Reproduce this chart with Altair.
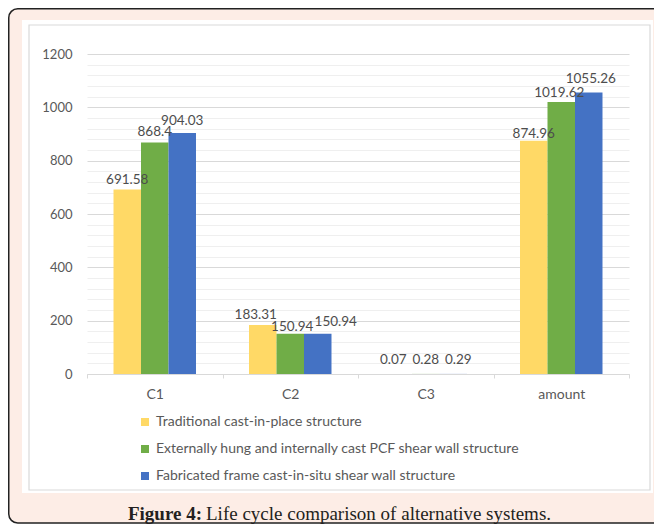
import altair as alt
import pandas as pd

categories = ["C1", "C2", "C3", "amount"]
series = [
    "Traditional cast-in-place structure",
    "Externally hung and internally cast PCF shear wall structure",
    "Fabricated frame cast-in-situ shear wall structure",
]
traditional = [691.58, 183.31, 0.07, 874.96]
externally_hung = [868.4, 150.94, 0.28, 1019.62]
fabricated = [904.03, 150.94, 0.29, 1055.26]
y_ticks = list(range(0, 1201, 40))
caption_bold = "Figure 4:"
caption_rest = "Life cycle comparison of alternative systems."

colors = ["#FFD966", "#70AD47", "#4472C4"]

rows = []
for s, vals in zip(series, [traditional, externally_hung, fabricated]):
    for c, v in zip(categories, vals):
        rows.append({"category": c, "series": s, "value": v, "label": str(v)})
df = pd.DataFrame(rows)

W, H = 542, 320
TXT = "#595959"
FONT = "Lato"
PEACH = "#fdede6"

x_enc = alt.X(
    "category:N", sort=categories,
    scale=alt.Scale(paddingInner=0, paddingOuter=0),
    axis=alt.Axis(title=None, labelAngle=0, labelFont=FONT, labelFontSize=14,
                  labelColor=TXT, labelPadding=9, domainColor="#d9d9d9",
                  tickColor="#d9d9d9", tickSize=4, tickBand="extent", grid=False),
)
xo_enc = alt.XOffset("series:N", sort=series,
                     scale=alt.Scale(paddingInner=0, paddingOuter=0.964))
y_enc = alt.Y(
    "value:Q", scale=alt.Scale(domain=[0, 1200], nice=False),
    axis=alt.Axis(title=None, values=y_ticks, format="d",
                  labelExpr="datum.value % 200 === 0 ? datum.label : ''",
                  labelOverlap=False, domain=False, ticks=False, tickSize=0,
                  labelPadding=15, labelFont=FONT, labelFontSize=13, labelColor=TXT,
                  gridColor={"condition": {"test": "datum.value % 200 === 0", "value": "#d9d9d9"},
                             "value": "#efefef"}),
)

one = pd.DataFrame({"a": [0]})

def deco_rect(x1, x2, y1, y2, **kw):
    return alt.Chart(one).mark_rect(**kw).encode(
        x=alt.value(x1), x2=alt.value(x2), y=alt.value(y1), y2=alt.value(y2))

strip_top = deco_rect(-78, 567, -45, -34, fill=PEACH, cornerRadiusTopLeft=9)
strip_left = deco_rect(-78, -65, -34.5, 439.5, fill=PEACH)
strip_right = deco_rect(566, 567, -34.5, 439.5, fill=PEACH)
strip_bottom = deco_rect(-78, 567, 439, 469, fill=PEACH, cornerRadiusBottomLeft=9)
border = deco_rect(-78.25, 575, -45.25, 469, fill="white", fillOpacity=0,
                   stroke="#222222", strokeWidth=1.5, cornerRadius=9)
gray = deco_rect(-58, 563, -29, 436, fill="white", fillOpacity=0,
                 stroke="#d9d9d9", strokeWidth=1.2)

bars = alt.Chart(df).mark_bar().encode(
    x=x_enc, xOffset=xo_enc, y=y_enc,
    color=alt.Color("series:N", sort=series,
                    scale=alt.Scale(domain=series, range=colors),
                    legend=alt.Legend(title=None, orient="none", legendX=51, legendY=361,
                                      direction="vertical", symbolType="square",
                                      symbolSize=64, symbolStrokeWidth=0,
                                      labelFont=FONT, labelFontSize=14, labelColor=TXT,
                                      rowPadding=13, labelOffset=4, padding=0,
                                      labelLimit=600)),
)

# label nudges (style only): (category, series index) -> (dx, dy)
nudges = {
    ("C1", 2): (0, -8),
    ("C2", 0): (-7, -6), ("C2", 1): (2, -3), ("C2", 2): (18, -8),
    ("C3", 0): (-5, -10), ("C3", 1): (0, -10), ("C3", 2): (5, -10),
    ("amount", 0): (0, -3), ("amount", 1): (-2, -5), ("amount", 2): (2, -10),
}

def label_layer(flt, dx, dy):
    return alt.Chart(df).transform_filter(flt).mark_text(
        font=FONT, fontSize=13.5, color="#4d4d4d", baseline="alphabetic",
        dx=dx, dy=dy).encode(x=x_enc, xOffset=xo_enc, y=y_enc, text="label:N")

excluded = " && ".join(
    f"!(datum.category === '{c}' && datum.series === '{series[i]}')" for (c, i) in nudges)
labels = [label_layer(excluded, 0, -6)]
for (c, i), (dx, dy) in nudges.items():
    labels.append(label_layer(
        f"datum.category === '{c}' && datum.series === '{series[i]}'", dx, dy))

cap1 = alt.Chart(one).mark_text(text=caption_bold, font="Liberation Serif", fontSize=19,
                                fontWeight="bold", color="#231f20", align="right",
                                baseline="alphabetic").encode(
    x=alt.value(115), y=alt.value(466))
cap2 = alt.Chart(one).mark_text(text=caption_rest, font="Liberation Serif", fontSize=19,
                                color="#231f20", align="left",
                                baseline="alphabetic").encode(
    x=alt.value(119), y=alt.value(466))

chart = alt.layer(strip_top, strip_left, strip_right, strip_bottom, border, gray,
                  bars, *labels, cap1, cap2).properties(
    width=W, height=H,
    padding={"left": 79, "top": 46, "right": 25, "bottom": 150},
    autosize=alt.AutoSizeParams(type="none"),
    background="white",
).configure_view(strokeWidth=0)

chart.save("out.html", embed_options={"renderer": "svg", "actions": False})
